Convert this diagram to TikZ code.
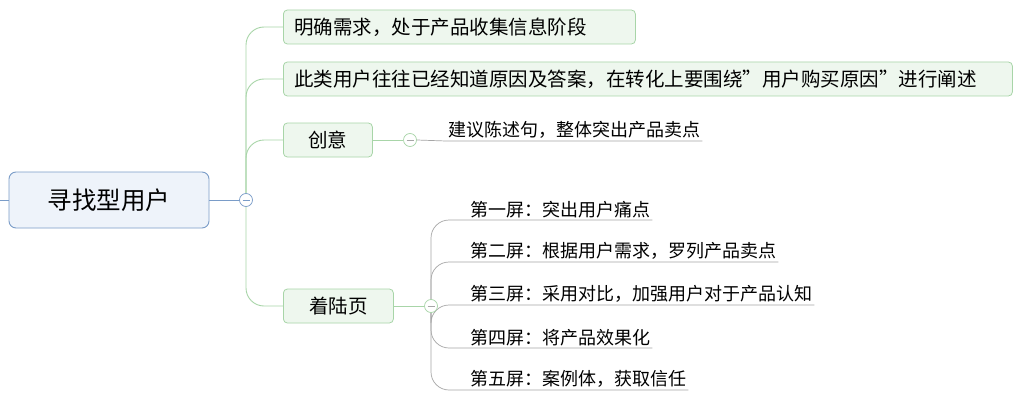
\documentclass[tikz,border=0pt]{standalone}
\usepackage{fontspec}
\setmainfont{Noto Sans CJK SC}
\begin{document}
\begin{tikzpicture}[x=1pt,y=-1pt,
 mainbox/.style={draw=mainB,fill=mainF,rounded corners=7pt,line width=0.9pt,minimum width=200pt,minimum height=56pt,font=\fontsize{24.5}{27}\selectfont},
 br/.style={draw=grB,fill=grF,rounded corners=4pt,line width=0.8pt,minimum height=34pt,anchor=west,inner xsep=11pt,font=\fontsize{19.5}{22}\selectfont},
 leaf/.style={anchor=south west,inner sep=2pt,font=\fontsize{18}{20}\selectfont},
 gl/.style={draw=grB,line width=0.9pt},
 sl/.style={draw=gray!70,line width=0.7pt},
 tog/.style={circle,draw=mainB,fill=white,inner sep=0pt,minimum size=13pt,line width=0.7pt},
 tog2/.style={circle,draw=grB,fill=white,inner sep=0pt,minimum size=13pt,line width=0.7pt}]
\definecolor{mainB}{HTML}{7A9CC8}\definecolor{mainF}{HTML}{EEF3FA}
\definecolor{grB}{HTML}{A8D5A8}\definecolor{grF}{HTML}{EEF7EE}
\useasboundingbox (0,0) rectangle (1024,401);
\fill[white] (0,0) rectangle (1024,401);
\node[mainbox] (m) at (109,200) {寻找型用户};
\coordinate (l) at (0,200);
\draw[mainB,line width=0.9pt] (l) -- (m.west);
\node[br,minimum width=352pt,align=left,text width=330pt] (b1) at (283,27) {明确需求，处于产品收集信息阶段};
\node[br,minimum width=729pt,align=left,text width=707pt] (b2) at (283,79) {此类用户往往已经知道原因及答案，在转化上要围绕”用户购买原因”进行阐述};
\node[br,minimum width=89pt] (b3) at (283,140) {创意};
\node[br,minimum width=110pt] (b4) at (283,306) {着陆页};
\coordinate (t) at (246,200);
\foreach \b in {b1,b2,b3,b4}{\draw[gl,rounded corners=18pt] (t) |- (\b.west);}
\draw[mainB,line width=0.9pt] (m.east) -- (t);
\node[tog] (tc) at (t) {};
\draw[mainB,line width=0.8pt] (tc.center)++(-3.5,0) -- ++(7,0);
% 创意
\node[tog2] (c3) at (410,140) {};
\draw[gl] (b3.east) -- (c3);
\draw[gray!70,line width=0.8pt] (c3.center)++(-3.5,0) -- ++(7,0);
\node[leaf] (s0) at (446,141) {建议陈述句，整体突出产品卖点};
\draw[sl] (c3.east) -- (s0.south west) -- (s0.south east);
% 着陆页
\coordinate (c4) at (431,306);
\foreach \n/\y/\t in {s1/220/第一屏：突出用户痛点,s2/262/第二屏：根据用户需求，罗列产品卖点,s3/305/第三屏：采用对比，加强用户对于产品认知,s4/348/第四屏：将产品效果化,s5/390/第五屏：案例体，获取信任}{
 \node[leaf] (\n) at (468,\y) {\t};
 \draw[sl,rounded corners=18pt] (c4) |- (\n.south west) -- (\n.south east);
}
\draw[gl] (b4.east) -- (c4);
\node[tog2] (c4n) at (c4) {};
\draw[gray!70,line width=0.8pt] (c4)++(-3.5,0) -- ++(7,0);
\end{tikzpicture}
\end{document}
